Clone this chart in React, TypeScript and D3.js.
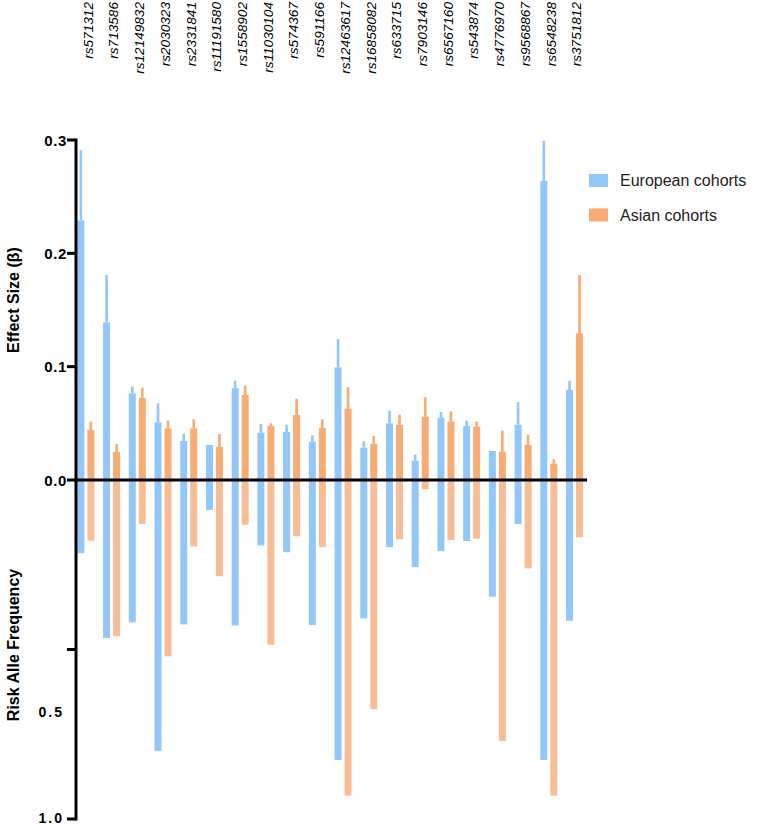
import React from "react";
import * as d3 from "d3";

const snps = ["rs571312","rs713586","rs12149832","rs2030323","rs2331841","rs11191580","rs1558902","rs11030104","rs574367","rs591166","rs12463617","rs16858082","rs633715","rs7903146","rs6567160","rs543874","rs4776970","rs9568867","rs6548238","rs3751812"];
const eurBeta = [0.229,0.139,0.0765,0.051,0.0344,0.0309,0.081,0.0418,0.0424,0.0338,0.0994,0.0285,0.05,0.017,0.055,0.0476,0.0256,0.0488,0.264,0.0794];
const eurUpper = [0.291,0.181,0.0824,0.0676,0.0406,0.0309,0.0876,0.0494,0.0488,0.0394,0.1244,0.0341,0.0612,0.0224,0.06,0.0524,0.0256,0.0688,0.2994,0.0876];
const asnBeta = [0.044,0.0247,0.0726,0.0456,0.0456,0.0291,0.075,0.0476,0.0574,0.046,0.0629,0.032,0.0488,0.0559,0.0515,0.047,0.025,0.0309,0.0144,0.1294];
const asnUpper = [0.0515,0.0318,0.0815,0.0524,0.0535,0.0406,0.0832,0.05,0.0718,0.0535,0.0818,0.0388,0.0576,0.073,0.0606,0.0515,0.0435,0.04,0.0182,0.1809];
const eurFreq = [0.216,0.466,0.42,0.799,0.426,0.088,0.429,0.193,0.213,0.428,0.826,0.408,0.198,0.257,0.21,0.18,0.344,0.13,0.826,0.415];
const asnFreq = [0.179,0.461,0.13,0.52,0.196,0.284,0.132,0.486,0.166,0.198,0.931,0.676,0.175,0.027,0.177,0.173,0.77,0.261,0.931,0.169];
const series = ["European cohorts","Asian cohorts"];
const betaTicks = [0, 0.1, 0.2, 0.3];
const freqTicks = [0.5, 1.0];

const BLUE = "#93c7fa";
const ORANGE = "#f8ab73";
const ORANGE_LIGHT = "#f9bd96";
const FONT = "'Liberation Sans', Arial, Helvetica, sans-serif";

export default function App() {
  const W = 770, H = 825;
  const axisX = 76;
  const x = d3.scaleBand<string>().domain(snps).range([73, 73 + 20 * 25.72]).padding(0);
  const xs = d3.scaleBand<string>().domain(series).range([-8.5, 8.5]).paddingInner(0.3);
  const yB = d3.scaleLinear().domain([0, 0.3]).range([480, 140]);
  const yF = d3.scaleLinear().domain([0, 1]).range([480, 819]);
  const bw = xs.bandwidth();
  const wk = 2.6;
  const cx = (s: string) => (x(s) as number) + x.bandwidth() / 2;

  const rows = snps.map((s, i) => ({
    s,
    vals: [
      { k: series[0], b: eurBeta[i], u: eurUpper[i], f: eurFreq[i], c: BLUE, cf: BLUE },
      { k: series[1], b: asnBeta[i], u: asnUpper[i], f: asnFreq[i], c: ORANGE, cf: ORANGE_LIGHT },
    ],
  }));

  return (
    <svg width={W} height={H} style={{ position: "absolute", left: 0, top: 0, background: "#fff" }} fontFamily={FONT}>
      {rows.map((r) =>
        r.vals.map((v) => (
          <rect key={"f" + r.s + v.k} x={cx(r.s) + (xs(v.k) as number)} y={yF(0)} width={bw} height={yF(v.f) - yF(0)} fill={v.cf} />
        ))
      )}
      {rows.map((r) =>
        r.vals.map((v) => {
          const bx = cx(r.s) + (xs(v.k) as number);
          return (
            <g key={"b" + r.s + v.k}>
              <rect x={bx + bw / 2 - wk / 2} y={yB(v.u)} width={wk} height={yB(v.b) - yB(v.u)} fill={v.c} />
              <rect x={bx} y={yB(v.b)} width={bw} height={yB(0) - yB(v.b)} fill={v.c} />
            </g>
          );
        })
      )}
      <line x1={axisX - 1.5} x2={587} y1={yB(0)} y2={yB(0)} stroke="#000" strokeWidth={3} />
      <line x1={axisX} x2={axisX} y1={yB(0.3) - 1.5} y2={yF(1) + 1.5} stroke="#000" strokeWidth={3} />
      {betaTicks.map((t) => (
        <g key={"bt" + t}>
          <line x1={axisX - 9} x2={axisX} y1={yB(t)} y2={yB(t)} stroke="#000" strokeWidth={3} />
          <text x={axisX - 9} y={yB(t)} textAnchor="end" dominantBaseline="central" fontSize={15} fontWeight="bold" letterSpacing={0.6}>{d3.format(".1f")(t)}</text>
        </g>
      ))}
      {freqTicks.map((t) => (
        <line key={"ft" + t} x1={axisX - 9} x2={axisX} y1={yF(t)} y2={yF(t)} stroke="#000" strokeWidth={3} />
      ))}
      <text x={axisX - 12} y={yF(0.685)} textAnchor="end" dominantBaseline="central" fontSize={14} fontWeight="bold" letterSpacing={2}>0.5</text>
      <text x={axisX - 12} y={yF(1) - 1.5} textAnchor="end" dominantBaseline="central" fontSize={14} fontWeight="bold" letterSpacing={2}>1.0</text>
      <text transform={`translate(13,300) rotate(-90)`} textAnchor="middle" dominantBaseline="central" fontSize={16} fontWeight="bold">Effect Size (β)</text>
      <text transform={`translate(13,645) rotate(-90)`} textAnchor="middle" dominantBaseline="central" fontSize={16} fontWeight="bold">Risk Alle Frequency</text>
      {snps.map((s) => (
        <text key={"l" + s} transform={`translate(${cx(s) + 2.5},2) rotate(-90) scale(1.08,1)`} textAnchor="end" dominantBaseline="central" fontSize={12.6} fontStyle="italic" fill="#000">{s}</text>
      ))}
      {series.map((s, i) => (
        <g key={"lg" + s} transform={`translate(589,${174 + i * 34.5})`}>
          <rect x={0} y={0} width={19} height={13} fill={i === 0 ? BLUE : ORANGE} />
          <text x={31} y={6.5} dominantBaseline="central" fontSize={16} fill="#222">{s}</text>
        </g>
      ))}
    </svg>
  );
}
